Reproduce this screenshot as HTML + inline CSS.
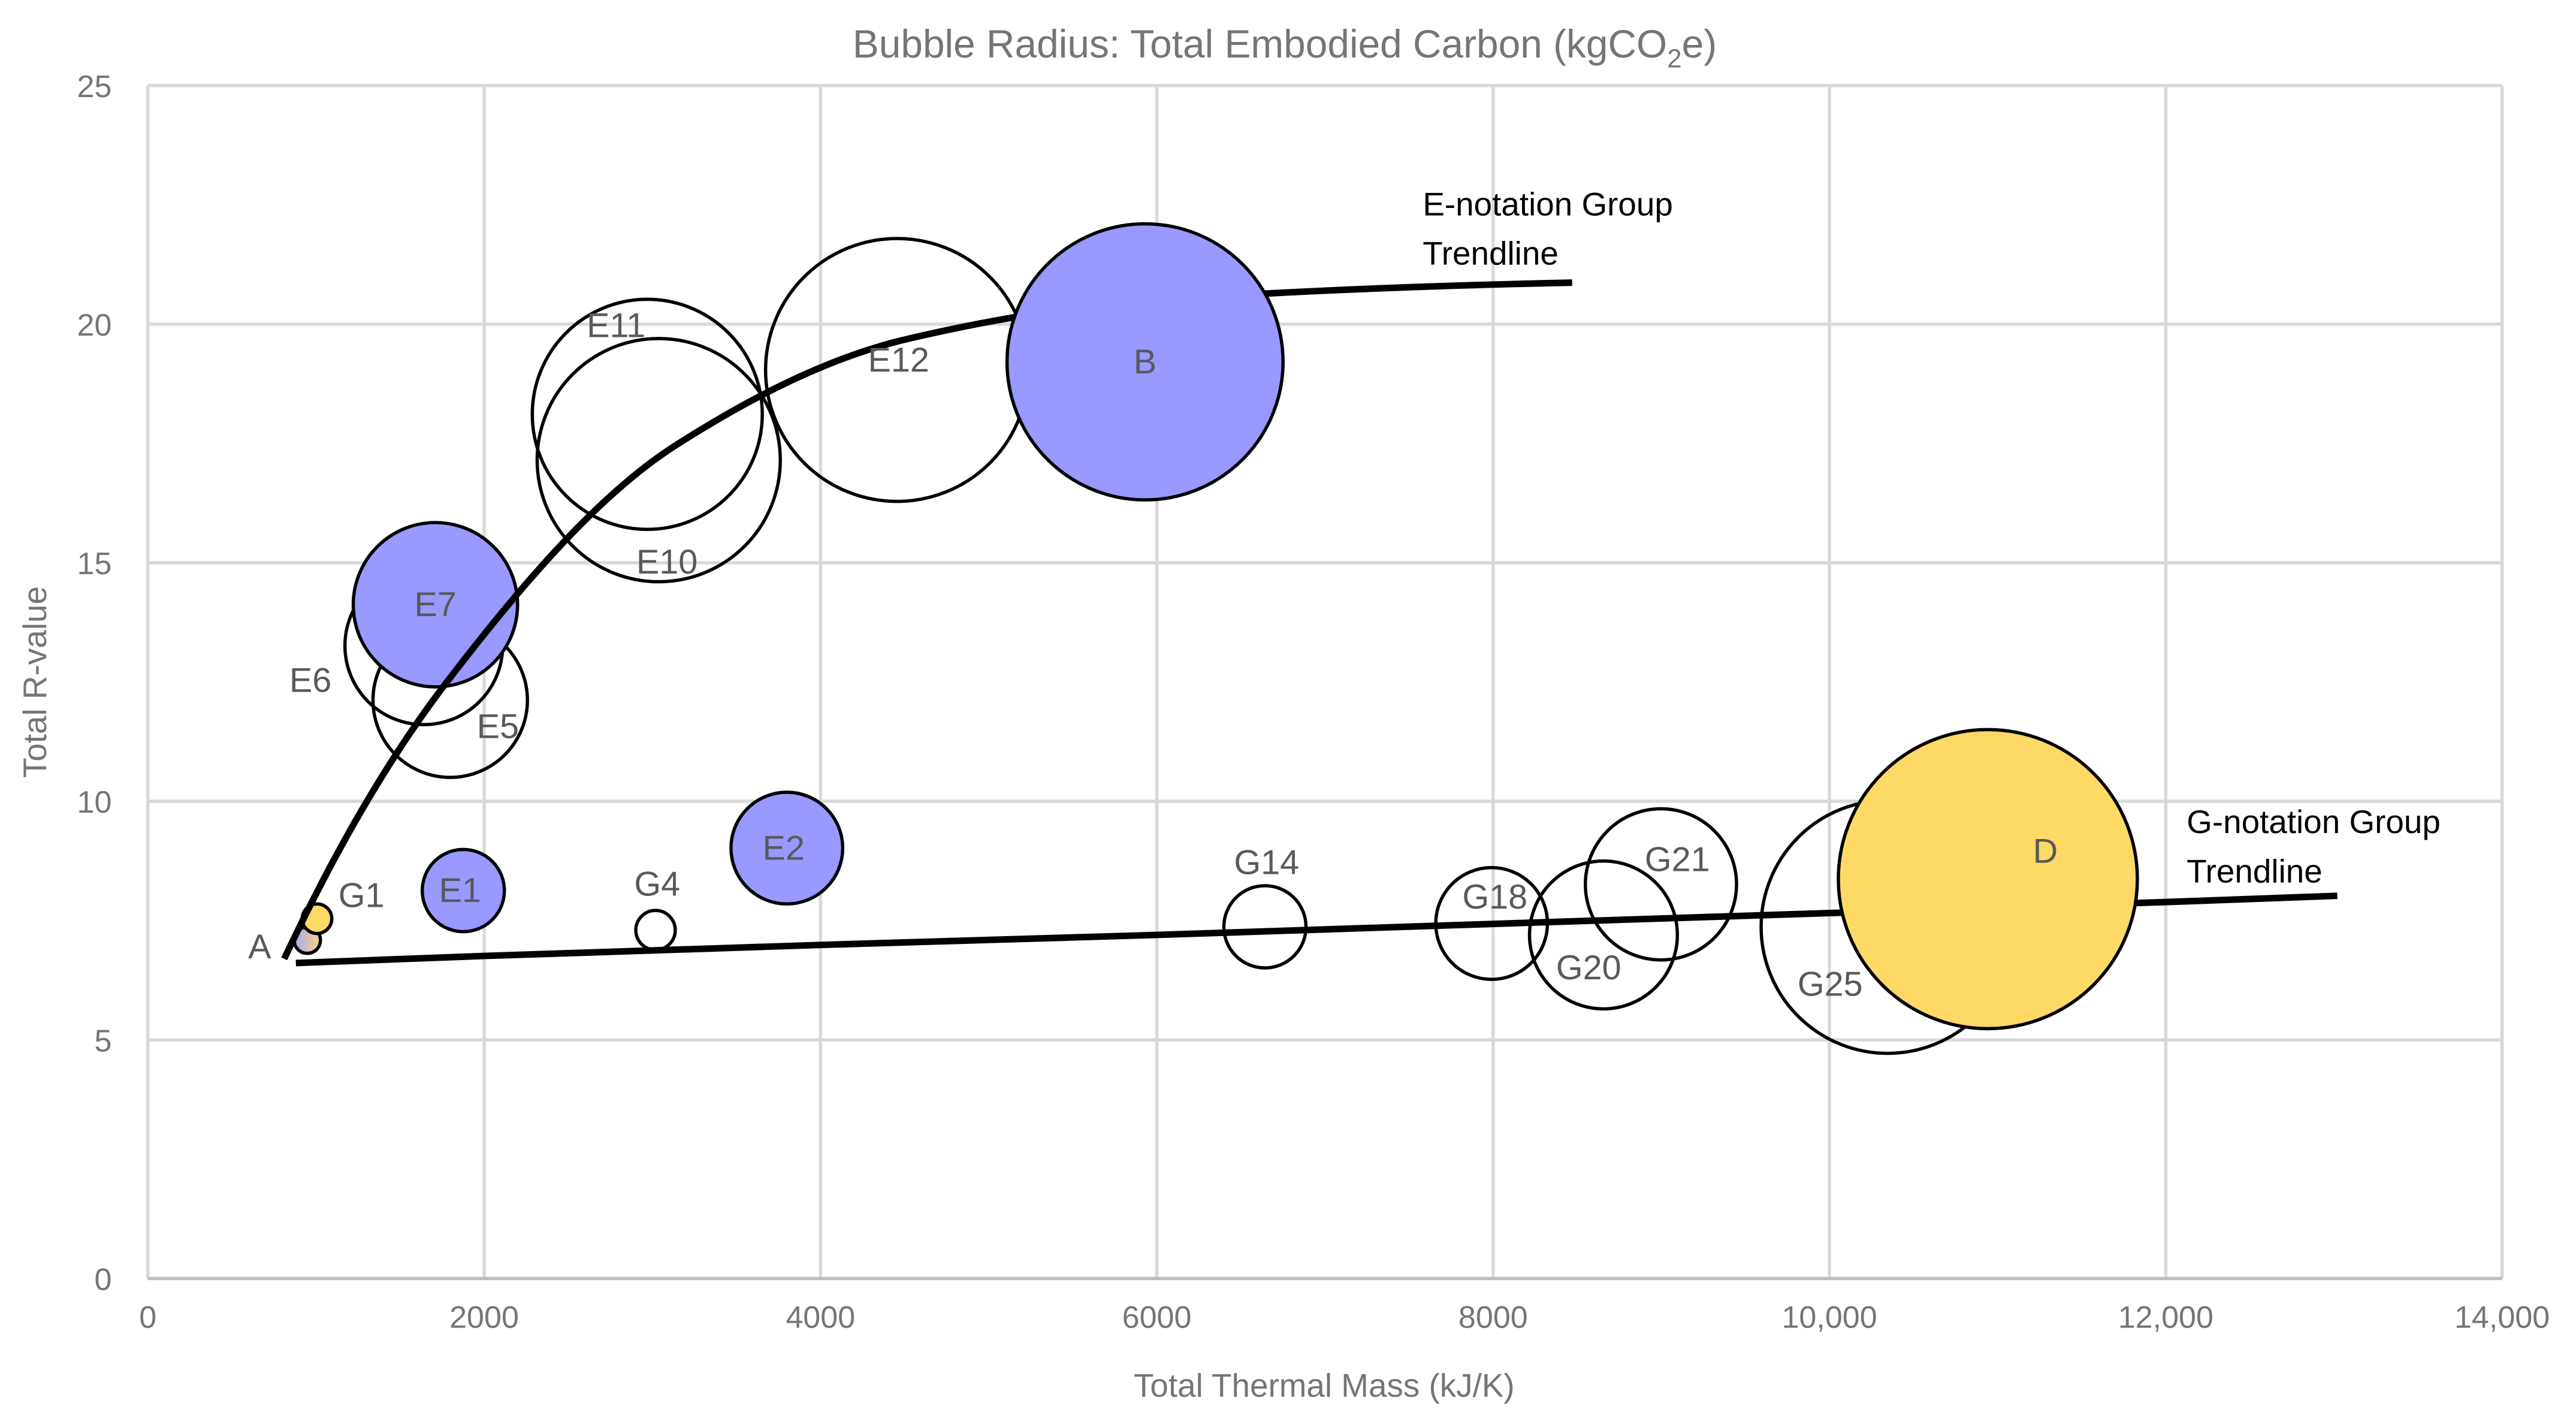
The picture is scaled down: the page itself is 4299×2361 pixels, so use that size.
<!DOCTYPE html>
<html><head><meta charset="utf-8"><style>
html,body{margin:0;padding:0;background:#fff;}
svg{display:block;font-family:"Liberation Sans",Arial,sans-serif;}
</style></head><body>
<svg id="chart" width="4299" height="2361" viewBox="0 0 1568 861" xmlns="http://www.w3.org/2000/svg">
<defs>
<linearGradient id="gA" x1="0" x2="1" y1="0" y2="0"><stop offset="0" stop-color="#a9a6f5"/><stop offset="1" stop-color="#fcd57e"/></linearGradient>
</defs>
<rect width="1568" height="861" fill="#fff"/>
<g id="grid"></g>
<g id="bubbles"></g>
<g id="trends"></g>
<g id="bubbles2"></g>
<g id="labels"></g>
<text x="782" y="35" text-anchor="middle" font-size="24" fill="#757575">Bubble Radius: Total Embodied Carbon (kgCO<tspan font-size="16" dy="6">2</tspan><tspan dy="-6">e)</tspan></text>
<text x="806" y="850" text-anchor="middle" font-size="20" fill="#757575">Total Thermal Mass (kJ/K)</text>
<text transform="translate(28,415) rotate(-90)" text-anchor="middle" font-size="20" fill="#757575">Total R-value</text>
<text font-size="20" fill="#000"><tspan x="866" y="131">E-notation Group</tspan><tspan x="866" y="161">Trendline</tspan></text>
<text font-size="20" fill="#000"><tspan x="1331" y="507">G-notation Group</tspan><tspan x="1331" y="537">Trendline</tspan></text>
</svg>
<script>
const xTicks=[0,2000,4000,6000,8000,10000,12000,14000];
const xTickLabels=["0","2000","4000","6000","8000","10,000","12,000","14,000"];
const yTicks=[0,5,10,15,20,25];
const names=["E11","E10","E12","B","E6","E5","E7","E1","E2","G25","D","G20","G21","G18","G14","G4","A","G1"];
const xVals=[2970,3038,4455,5930,1641,1798,1710,1876,3800,10346,10942,8656,8998,7991,6643,3019,948,1006];
const yVals=[18.11,17.15,19.04,19.21,13.26,12.12,14.12,8.13,9.02,7.37,8.37,7.20,8.26,7.44,7.37,7.30,7.09,7.54];
const radii=[70,74,80,84,48,47,50,25,34,77,91,45,46,34,25,12,8,9];
const fills=["none","none","none","#9999ff","none","none","#9999ff","#9999ff","#9999ff","none","#ffd966","none","none","none","none","none","url(#gA)","#ffd966"];
const labelDx=[-19,5,1,0,-69,29,0,-2,-2,-35,35,-9,10,2,1,1,-29,27];
const labelDy=[-54,62,-6,0,21,16,0,0,0,35,-17,20,-15,-16,-39,-28,4,-14];
const eTrendX=[811,1778,3143,4506,5960,8470];
const eTrendY=[6.70,12.50,17.47,19.68,20.49,20.87];
const gTrendX=[880,2000,4000,6000,8000,10000,12000,13020];
const gTrendY=[6.61,6.76,6.99,7.2,7.43,7.66,7.89,8.02];
const NS="http://www.w3.org/2000/svg";
const X0=90,X1=1523,Y0=778,Y1=52;
const sx=v=>X0+(v/14000)*(X1-X0);
const sy=v=>Y0-(v/25)*(Y0-Y1);
function mk(tag,attrs,parent){const e=document.createElementNS(NS,tag);for(const k in attrs)e.setAttribute(k,attrs[k]);parent.appendChild(e);return e;}
const grid=document.getElementById('grid');
xTicks.forEach((t,i)=>{
  const l=mk('line',{x1:sx(t),x2:sx(t),y1:Y1,y2:Y0,stroke:'#d9d9d9','stroke-width':2},grid);
  
  
  const tx=mk('text',{x:sx(t),y:Y0+30,'text-anchor':'middle','font-size':19,fill:'#757575'},grid);
  tx.textContent=xTickLabels[i];
  
  
});
yTicks.forEach(t=>{
  const l=mk('line',{x1:X0,x2:X1,y1:sy(t),y2:sy(t),stroke:'#d9d9d9','stroke-width':2},grid);
  
  
  const tx=mk('text',{x:X0-22,y:sy(t)+7,'text-anchor':'end','font-size':19,fill:'#757575'},grid);
  tx.textContent=String(t);
  
  
});
const ax=mk('line',{x1:X0,x2:X1,y1:Y0,y2:Y0,stroke:'#bfbfbf','stroke-width':2},grid);


const bg=document.getElementById('bubbles'),bg2=document.getElementById('bubbles2'),lg=document.getElementById('labels');
names.forEach((n,i)=>{
  const parent=(n==='B'||n==='D')?bg2:bg;
  const c=mk('circle',{cx:sx(xVals[i]),cy:sy(yVals[i]),r:radii[i],fill:fills[i],stroke:'#000','stroke-width':2},parent);
  
  
  const t=mk('text',{x:sx(xVals[i])+labelDx[i],y:sy(yVals[i])+labelDy[i]+7,'text-anchor':'middle','font-size':21,fill:'#595959'},lg);
  t.textContent=n;
  
  
});
const tg=document.getElementById('trends');
function path(xs,ys){let d='';xs.forEach((x,i)=>{d+=(i?' L':'M')+sx(x).toFixed(1)+','+sy(ys[i]).toFixed(1);});return d;}
function monotone(xs,ys){
  const n=xs.length,h=[],s=[],m=[];
  for(let i=0;i<n-1;i++){h.push(xs[i+1]-xs[i]);s.push((ys[i+1]-ys[i])/h[i]);}
  m[0]=s[0]*1.25;m[n-1]=s[n-2]*0.5;
  for(let i=1;i<n-1;i++){m[i]=(s[i-1]*s[i]<=0)?0:(h[i-1]+2*h[i]+2*h[i-1]+h[i])/((2*h[i]+h[i-1])/s[i-1]+(h[i]+2*h[i-1])/s[i]);}
  let d='';
  for(let i=0;i<n-1;i++){
    for(let k=0;k<=30;k++){
      const t=k/30,t2=t*t,t3=t2*t;
      const y=(2*t3-3*t2+1)*ys[i]+(t3-2*t2+t)*h[i]*m[i]+(-2*t3+3*t2)*ys[i+1]+(t3-t2)*h[i]*m[i+1];
      const x=xs[i]+t*h[i];
      d+=(d?' L':'M')+sx(x).toFixed(2)+','+sy(y).toFixed(2);
    }
  }
  return d;
}
const et=mk('path',{d:monotone(eTrendX,eTrendY),fill:'none',stroke:'#000','stroke-width':4,'stroke-linejoin':'round'},tg);


const gt=mk('path',{d:path(gTrendX,gTrendY),fill:'none',stroke:'#000','stroke-width':4},tg);


</script>
</body></html>
